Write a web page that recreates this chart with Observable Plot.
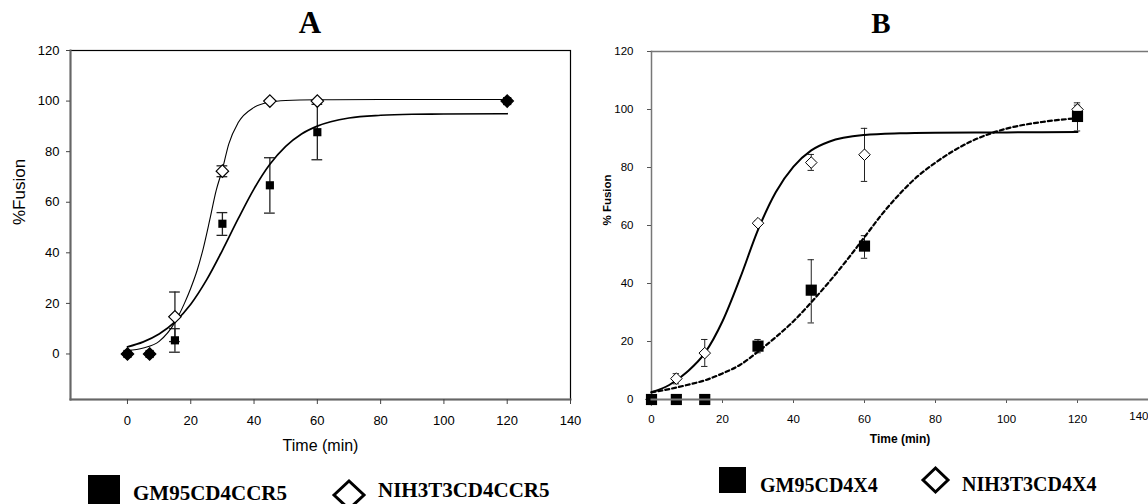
<!DOCTYPE html>
<html>
<head>
<meta charset="utf-8">
<script src="https://cdn.jsdelivr.net/npm/d3@7"></script>
<script src="https://cdn.jsdelivr.net/npm/@observablehq/plot@0.6"></script>
<style>
  html, body { margin: 0; padding: 0; background: #fff; overflow: hidden; }
  #wrap { position: relative; width: 1148px; height: 504px; overflow: hidden; background: #fff; }
  #wrap > * { position: absolute; }
  #chartA { left: 0; top: 0; }
  #chartB { left: 580px; top: 0; }
  #overlay { left: 0; top: 0; pointer-events: none; }
</style>
</head>
<body>
<div id="wrap">
  <div id="chartA"></div>
  <div id="chartB"></div>
  <svg id="overlay" width="1148" height="504" xmlns="http://www.w3.org/2000/svg">
    <g font-family="'Liberation Serif', 'Times New Roman', serif" font-weight="bold" fill="#000">
      <text x="310" y="33" font-size="31" text-anchor="middle">A</text>
      <text x="881" y="33" font-size="29" text-anchor="middle">B</text>
      <rect x="88" y="475" width="32" height="32" fill="#000"></rect>
      <text x="133" y="500" font-size="21">GM95CD4CCR5</text>
      <polygon points="334,495 349,481 364,495 349,509" fill="#fff" stroke="#000" stroke-width="3"></polygon>
      <text x="378" y="497" font-size="21">NIH3T3CD4CCR5</text>
      <rect x="719" y="467" width="27" height="26" fill="#000"></rect>
      <text x="760" y="492" font-size="20">GM95CD4X4</text>
      <polygon points="923,480 935.5,468 948,480 935.5,492" fill="#fff" stroke="#000" stroke-width="3"></polygon>
      <text x="962" y="491" font-size="20">NIH3T3CD4X4</text>
    </g>
  </svg>
</div>
<script>
// ---------- Panel A data ----------
const timeA = [0, 7, 15, 30, 45, 60, 120];
const gmA    = [0, 0, 5.4, 51.5, 66.7, 87.7, 100];
const gmA_lo = [0, 0, 0.7, 46.9, 55.7, 76.8, 100];
const gmA_hi = [0, 0, 10.0, 55.9, 77.6, 98.7, 100];
const nihA    = [0, 0, 14.7, 72.3, 100, 100, 100];
const nihA_lo = [0, 0, 4.9, 70.1, 100, 100, 100];
const nihA_hi = [0, 0, 24.5, 74.4, 100, 100, 100];

const fitA_gm_t = [0, 5, 10, 15, 20, 25, 30, 35, 40, 45, 50, 55, 60, 70, 80, 90, 100, 120];
const fitA_gm_v = [2.8, 4.8, 7.9, 12.7, 19.7, 29.3, 41, 53.5, 65.3, 75, 82.1, 87, 90.1, 93.3, 94.4, 94.8, 94.9, 95];
const fitA_nih_t = [0, 5, 10, 15, 18, 20, 22, 24, 26, 28, 30, 32, 35, 40, 45, 50, 60, 80, 100, 120];
const fitA_nih_v = [1.4, 2.4, 5.0, 12.5, 20, 26, 33, 42, 53, 64.5, 73, 83, 91.5, 97.5, 99.6, 100.2, 100.5, 100.6, 100.6, 100.6];

const ticksAx = [0, 20, 40, 60, 80, 100, 120, 140];
const ticksAy = [0, 20, 40, 60, 80, 100, 120];

// ---------- Panel B data ----------
const timeB = [0, 7, 15, 30, 45, 60, 120];
const gmB    = [0, 0, 0, 18.4, 37.7, 52.9, 97.6];
const gmB_lo = [0, 0, 0, 16.1, 26.4, 48.7, 92.6];
const gmB_hi = [0, 0, 0, 20.7, 48.2, 56.5, 102.3];
const nihB    = [0, 7.2, 16.0, 60.8, 81.7, 84.4, 100];
const nihB_lo = [0, 5.4, 11.4, 60.1, 79.0, 75.2, 99.0];
const nihB_hi = [0, 8.9, 20.7, 61.6, 84.5, 93.5, 101.5];

const fitB_gm_t = [0, 5, 10, 15, 20, 25, 30, 35, 40, 45, 50, 55, 60, 65, 70, 75, 80, 85, 90, 95, 100, 110, 120];
const fitB_gm_v = [2.5, 3.6, 5.0, 6.6, 9.0, 12, 16.5, 21.5, 27, 33.5, 40.5, 48, 56, 64, 71, 77, 81.7, 85.7, 89, 91.5, 93.4, 95.7, 97];
const fitB_nih_t = [0, 5, 10, 15, 20, 25, 30, 35, 40, 45, 50, 60, 70, 80, 100, 120];
const fitB_nih_v = [2.5, 5.0, 9.5, 16, 27, 42, 58.5, 71.5, 80.3, 85.9, 88.9, 91.2, 91.8, 92, 92.1, 92.2];

const ticksBx = [0, 20, 40, 60, 80, 100, 120];
const ticksBxLast = [140];
const ticksBy = [0, 20, 40, 60, 80, 100, 120];

const labelsA = {x: "Time (min)", y: "%Fusion"};
const labelsB = {x: "Time (min)", y: "% Fusion"};

// ---------- helpers ----------
const rows = (t, v, lo, hi) => t.map((tt, i) => ({t: tt, v: v[i], lo: lo[i], hi: hi[i]}));
const curve = (t, v) => t.map((tt, i) => ({t: tt, v: v[i]}));

const gmRowsA = rows(timeA, gmA, gmA_lo, gmA_hi);
const nihRowsA = rows(timeA, nihA, nihA_lo, nihA_hi).map((d, i) => ({...d, shared: d.v === gmA[i]}));
const gmRowsB = rows(timeB, gmB, gmB_lo, gmB_hi);
const nihRowsB = rows(timeB, nihB, nihB_lo, nihB_hi);

const hasErr = d => d.hi > d.lo;
const baseStyle = {
  background: "transparent",
  fontFamily: "'Liberation Sans', Arial, sans-serif",
  color: "#000",
  overflow: "visible",
  maxWidth: "none"
};

function errorMarks(data, cap, width) {
  return [
    Plot.ruleX(data, {filter: hasErr, x: "t", y1: "lo", y2: "hi", stroke: "#222", strokeWidth: width}),
    Plot.ruleY(data, {filter: hasErr, y: "lo", x1: d => d.t - cap, x2: d => d.t + cap, stroke: "#222", strokeWidth: width}),
    Plot.ruleY(data, {filter: hasErr, y: "hi", x1: d => d.t - cap, x2: d => d.t + cap, stroke: "#222", strokeWidth: width})
  ];
}

// ---------- Chart A ----------
const chartA = Plot.plot({
  width: 600, height: 464,
  marginLeft: 70, marginRight: 30, marginTop: 50, marginBottom: 65,
  x: {domain: [-18, 140]},
  y: {domain: [-18, 120]},
  style: {...baseStyle, fontSize: "13px"},
  marks: [
    Plot.frame({stroke: "#000", strokeWidth: 1.2}),
    Plot.frame({anchor: "left", stroke: "#666", strokeWidth: 2}),
    Plot.frame({anchor: "bottom", stroke: "#666", strokeWidth: 2}),
    Plot.axisX(ticksAx, {tickSize: 5, tickPadding: 11, label: null, fontSize: 13, stroke: "#444"}),
    Plot.axisY(ticksAy, {tickSize: 4, tickPadding: 7, label: null, fontSize: 13, stroke: "#444"}),
    Plot.text([labelsA.x], {text: d => d, frameAnchor: "bottom", dy: 51, fontSize: 16}),
    Plot.text([labelsA.y], {text: d => d, frameAnchor: "left", rotate: -90, dx: -51, fontSize: 17}),
    ...errorMarks(gmRowsA, 1.7, 1.3),
    ...errorMarks(nihRowsA, 1.7, 1.3),
    Plot.line(curve(fitA_nih_t, fitA_nih_v), {x: "t", y: "v", curve: "monotone-x", stroke: "#000", strokeWidth: 1.1}),
    Plot.line(curve(fitA_gm_t, fitA_gm_v), {x: "t", y: "v", curve: "monotone-x", stroke: "#000", strokeWidth: 1.7}),
    Plot.dot(nihRowsA, {filter: d => d.shared, x: "t", y: "v", symbol: "diamond2", r: 5.6, fill: "#000", stroke: "#000", strokeWidth: 1.2}),
    Plot.dot(gmRowsA, {x: "t", y: "v", symbol: "square", r: 4.6, fill: "#000"}),
    Plot.dot(nihRowsA, {filter: d => !d.shared, x: "t", y: "v", symbol: "diamond2", r: 5.6, fill: "#fff", stroke: "#000", strokeWidth: 1.2})
  ]
});
document.getElementById("chartA").append(chartA);

// ---------- Chart B ----------
const chartB = Plot.plot({
  width: 568, height: 464,
  marginLeft: 71, marginRight: 0, marginTop: 51, marginBottom: 65,
  x: {domain: [0, 140]},
  y: {domain: [0, 120]},
  style: {...baseStyle, fontSize: "11.5px"},
  marks: [
    Plot.frame({anchor: "top", stroke: "#777", strokeWidth: 1.5}),
    Plot.frame({anchor: "left", stroke: "#777", strokeWidth: 1.5}),
    Plot.axisX(ticksBx, {tickSize: 4, tickPadding: 11, label: null, fontSize: 11.5, stroke: "#555"}),
    Plot.axisX(ticksBxLast, {tickSize: 4, tickPadding: 8, label: null, fontSize: 11.5, textAnchor: "end", stroke: "#555"}),
    Plot.axisY(ticksBy, {tickSize: 4, tickPadding: 14, label: null, fontSize: 11.5, stroke: "#555"}),
    Plot.text([labelsB.x], {text: d => d, frameAnchor: "bottom", dy: 43, fontSize: 12, fontWeight: "bold"}),
    Plot.text([labelsB.y], {text: d => d, frameAnchor: "left", rotate: -90, dx: -44, fontSize: 11.5, fontWeight: "bold"}),
    ...errorMarks(gmRowsB, 0.9, 1),
    ...errorMarks(nihRowsB, 0.9, 1),
    Plot.line(curve(fitB_nih_t, fitB_nih_v), {x: "t", y: "v", curve: "monotone-x", stroke: "#000", strokeWidth: 2}),
    Plot.line(curve(fitB_gm_t, fitB_gm_v), {x: "t", y: "v", curve: "monotone-x", stroke: "#000", strokeWidth: 2.2, strokeDasharray: "4,3"}),
    Plot.dot(nihRowsB, {x: "t", y: "v", symbol: "diamond2", r: 5.2, fill: "#fff", stroke: "#000", strokeWidth: 1}),
    Plot.dot(gmRowsB, {x: "t", y: "v", symbol: "square", r: 6.3, fill: "#000"}),
    Plot.frame({anchor: "bottom", stroke: "#777", strokeWidth: 2})
  ]
});
document.getElementById("chartB").append(chartB);
</script>
</body>
</html>
